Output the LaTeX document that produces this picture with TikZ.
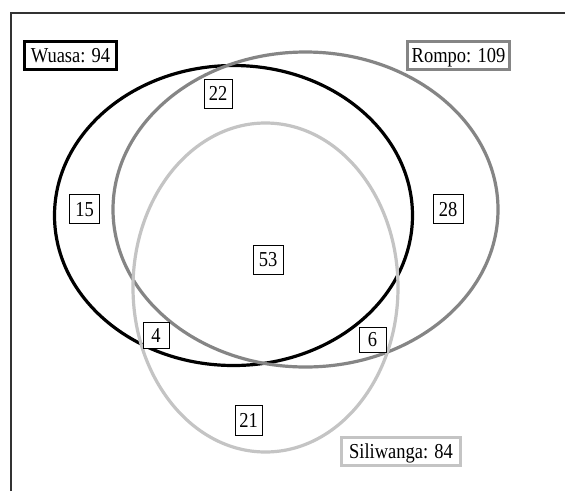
\documentclass[tikz,border=0pt]{standalone}
\usepackage{graphicx}
\usepackage{fontspec}
\setmainfont{Liberation Serif}
\definecolor{rgray}{HTML}{858585}
\definecolor{sgray}{HTML}{C4C4C4}
\definecolor{framec}{HTML}{333333}
\newcommand{\tallt}[1]{\scalebox{1}[1.15]{#1}}
\begin{document}
\begin{tikzpicture}[x=1pt,y=-1pt,
  ring/.style={line width=3.2pt},
  numbox/.style={draw=black,line width=0.9pt,fill=white,font=\fontsize{18.5}{20}\selectfont,inner sep=0pt,minimum height=29pt,minimum width=28pt,text height=14pt,text depth=0pt},
  setlabel/.style={fill=white,line width=3pt,font=\fontsize{18.5}{20}\selectfont,inner sep=0pt,minimum height=28pt,text height=14pt,text depth=0pt}]
\useasboundingbox (0,0) rectangle (565,491);
\fill[white] (0,0) rectangle (565,491);
\coordinate (fb) at (11,491);
\coordinate (fc) at (11,13);
\coordinate (fr) at (565,13);
\draw[framec,line width=2pt] (fb) -- (fc) -- (fr);
\draw[ring,black] (233.5,215.5) ellipse [x radius=179, y radius=150];
\draw[ring,rgray] (305.5,209.5) ellipse [x radius=192.5, y radius=157.5];
\draw[ring,sgray] (265.5,287.5) ellipse [x radius=132.5, y radius=164.5];
\node[setlabel,draw=black,minimum width=92pt] (w) at (70.5,55.5) {\tallt{Wuasa: 94}};
\node[setlabel,draw=rgray,minimum width=102pt] (r) at (458.5,55.5) {\tallt{Rompo: 109}};
\node[setlabel,draw=sgray,minimum width=119pt] (s) at (401,451.5) {\tallt{Siliwanga: 84}};
\node[numbox] (n22) at (218,93.5) {\tallt{22}};
\node[numbox,minimum width=30pt] (n15) at (84.5,209) {\tallt{15}};
\node[numbox,minimum width=30pt] (n28) at (448,209) {\tallt{28}};
\node[numbox,minimum width=30pt] (n53) at (268,259.5) {\tallt{53}};
\node[numbox,minimum width=26pt,minimum height=26pt] (n4) at (156,335) {\tallt{4}};
\node[numbox,minimum width=27pt,minimum height=25pt] (n6) at (372.5,339.5) {\tallt{6}};
\node[numbox,minimum width=27pt,minimum height=30pt] (n21) at (248.5,420) {\tallt{21}};
\end{tikzpicture}
\end{document}
